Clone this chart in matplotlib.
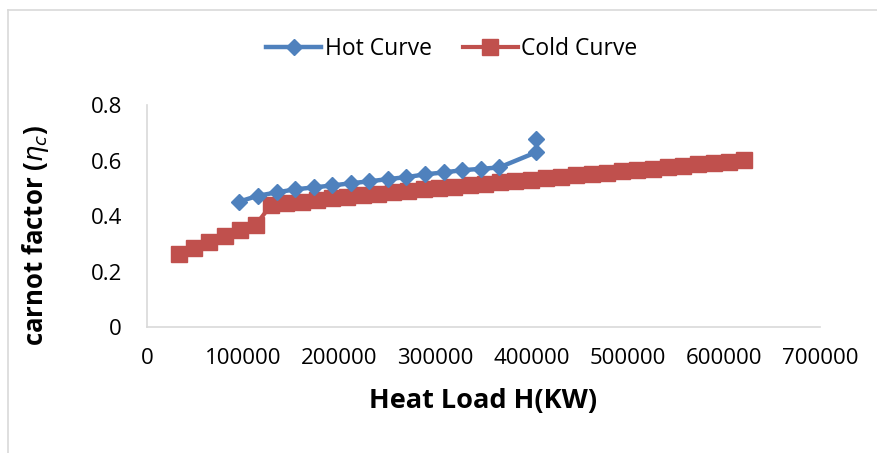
import numpy as np
import matplotlib.pyplot as plt
from matplotlib.lines import Line2D

# Hot curve (heat load, carnot factor)
hot_h = [96000, 115400, 134800, 154100, 173300, 192700, 212000, 231300,
         250600, 269900, 289200, 308500, 327800, 347100, 366400, 405000, 405000]
hot_eta = [0.452, 0.473, 0.485, 0.496, 0.503, 0.510, 0.518, 0.525,
           0.533, 0.540, 0.550, 0.557, 0.565, 0.570, 0.575, 0.630, 0.678]

# Cold curve
cold_h = [33000, 49000, 65000, 81000, 97000, 113000,
          129000, 144900, 160800, 176600, 192500, 208400, 224300, 240200,
          256000, 271900, 287800, 303700, 319600, 335500, 351300, 367200,
          383100, 399000, 414800, 430700, 446600, 462500, 478400, 494200,
          510100, 526000, 541900, 557800, 573600, 589500, 605400, 621300]
cold_eta = [0.263, 0.285, 0.307, 0.329, 0.350, 0.368,
            0.439, 0.446, 0.452, 0.458, 0.464, 0.470, 0.476, 0.481,
            0.486, 0.491, 0.496, 0.501, 0.506, 0.511, 0.516, 0.521,
            0.526, 0.531, 0.536, 0.541, 0.546, 0.551, 0.556, 0.561,
            0.566, 0.571, 0.576, 0.581, 0.586, 0.591, 0.596, 0.601]

blue = '#4F81BD'
red = '#C0504D'
plt.rcParams['font.family'] = ['Open Sans', 'DejaVu Sans']

fig = plt.figure(figsize=(8.77, 4.53), dpi=100)
ax = fig.add_axes([147/877, 1-327/453, (820-147)/877, (327-105)/453])

ax.plot(cold_h, cold_eta, color=red, lw=3, marker='s', ms=12, mec=red, label='Cold Curve', zorder=2)
ax.plot(hot_h, hot_eta, color=blue, lw=3.2, marker='D', ms=8.5, mec=blue, label='Hot Curve', zorder=3)

ax.set_xlim(0, 700000)
ax.set_ylim(0, 0.8)
ax.set_xticks(np.arange(0, 700001, 100000))
ax.set_yticks([0, 0.2, 0.4, 0.6, 0.8])
ax.set_yticklabels(['0', '0.2', '0.4', '0.6', '0.8'])
ax.tick_params(length=0, labelsize=16)
ax.tick_params(axis='x', pad=15)
ax.tick_params(axis='y', pad=18)
for s in ['top', 'right']:
    ax.spines[s].set_visible(False)
for s in ['left', 'bottom']:
    ax.spines[s].set_color('#d9d9d9')
    ax.spines[s].set_linewidth(1.2)

ax.set_xlabel('Heat Load H(KW)', fontsize=19.5, fontweight='bold', labelpad=14)
ax.set_ylabel(r'carnot factor ($\eta_c$)', fontsize=18.5, fontweight='bold')
ax.yaxis.set_label_coords(-0.143, 0.41)

handles = [Line2D([], [], color=blue, lw=3.2, marker='D', ms=8.5),
           Line2D([], [], color=red, lw=3, marker='s', ms=12)]
fig.legend(handles, ['Hot Curve', 'Cold Curve'], loc='center', bbox_to_anchor=(452/877, 1-49/453),
           ncol=2, frameon=False, fontsize=16.5, handlelength=2.4, columnspacing=1.35, handletextpad=0.15)

# chart area border
fig.add_artist(Line2D([8/877, 1], [1-10/453, 1-10/453], color='#d9d9d9', lw=1.2))
fig.add_artist(Line2D([8/877, 8/877], [0, 1-10/453], color='#d9d9d9', lw=1.2))

fig.savefig('out.png', dpi=100)
